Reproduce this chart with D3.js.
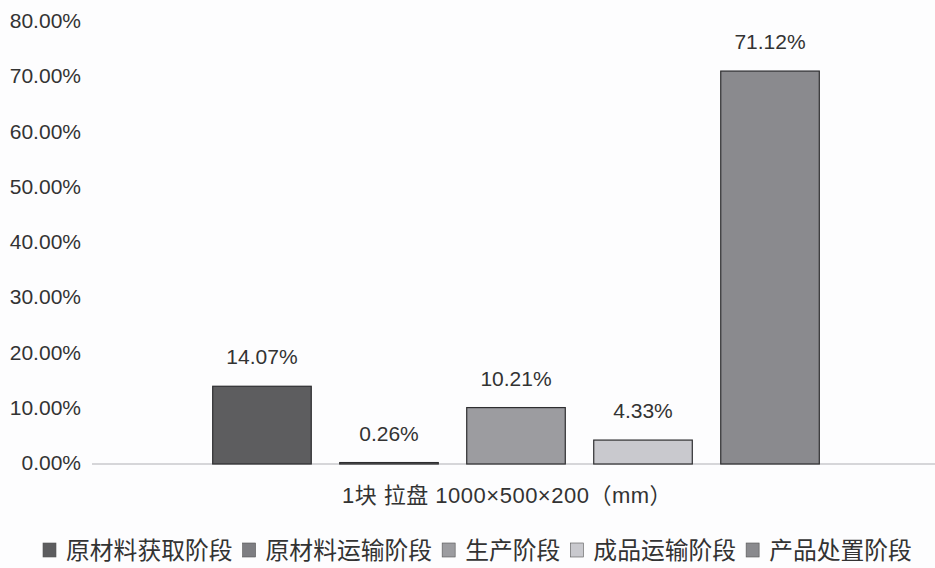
<!DOCTYPE html>
<html><head><meta charset="utf-8">
<script src="https://cdn.jsdelivr.net/npm/d3@7"></script>
<style>body{margin:0;background:#fdfdfe;}svg{display:block;}</style>
</head><body><svg id="c" width="935" height="568"></svg>
<script>
const series = ["原材料获取阶段","原材料运输阶段","生产阶段","成品运输阶段","产品处置阶段"];
const values = [14.07, 0.26, 10.21, 4.33, 71.12];
const category = "1块 拉盘 1000×500×200（mm）";
const yTicks = [0,10,20,30,40,50,60,70,80];
const colors = ["#5d5d5f","#7e7e82","#9c9ca0","#c9c9ce","#8a8a8e"];

const svg = d3.select("#c");
const W=935,H=568;
const numFont = "Liberation Sans Narrow, Arial Narrow, Liberation Sans, sans-serif";
svg.append("rect").attr("width",W).attr("height",H).attr("fill","#fdfdfe");
const y = d3.scaleLinear().domain([0,80]).range([464,22]);
const x = d3.scaleBand().domain(series).range([200,832]).paddingInner(0.224).paddingOuter(0.1);

// y axis labels
const yAxis = d3.axisLeft(y).tickValues(yTicks).tickFormat(d=>d3.format(".2f")(d)+"%").tickSize(0).tickPadding(0);
const ga = svg.append("g").attr("transform","translate(81,-1)").call(yAxis);
ga.select(".domain").remove();
ga.selectAll("text").attr("font-family",numFont).attr("font-size",21).attr("fill","#333");

// x axis line
svg.append("line").attr("x1",92).attr("x2",935).attr("y1",y(0)).attr("y2",y(0)).attr("stroke","#c8c8cc").attr("stroke-width",1.5);

// bars
svg.selectAll("rect.bar").data(values).enter().append("rect").attr("class","bar")
 .attr("x",(d,i)=>x(series[i])).attr("width",x.bandwidth())
 .attr("y",d=>y(d)).attr("height",d=>y(0)-y(d))
 .attr("fill",(d,i)=>colors[i]).attr("stroke","#2e2e30").attr("stroke-width",1.2);

// labels
svg.selectAll("text.lab").data(values).enter().append("text").attr("class","lab")
 .attr("x",(d,i)=>x(series[i])+x.bandwidth()/2).attr("y",d=>y(d)-22)
 .attr("text-anchor","middle").attr("font-family",numFont)
 .attr("font-size",21).attr("fill","#333").text(d=>d3.format(".2f")(d)+"%");

// category label
svg.append("text").attr("x",507).attr("y",503).attr("text-anchor","middle")
 .attr("font-family","Liberation Sans, Noto Sans CJK SC, sans-serif").attr("font-size",22)
 .attr("letter-spacing",0.5).attr("fill","#333").text(category);

// legend
const lg = svg.append("g");
let lx = 43;
series.forEach((s,i)=>{
  lg.append("rect").attr("x",lx).attr("y",543).attr("width",13).attr("height",14).attr("fill",colors[i]).attr("stroke","#555").attr("stroke-width",0.6);
  const t = lg.append("text").attr("x",lx+23).attr("y",559).attr("font-family","Noto Sans CJK SC, sans-serif")
    .attr("font-size",23.8).attr("fill","#333").text(s);
  lx += 23 + t.node().getComputedTextLength() + 10;
});
</script></body></html>
